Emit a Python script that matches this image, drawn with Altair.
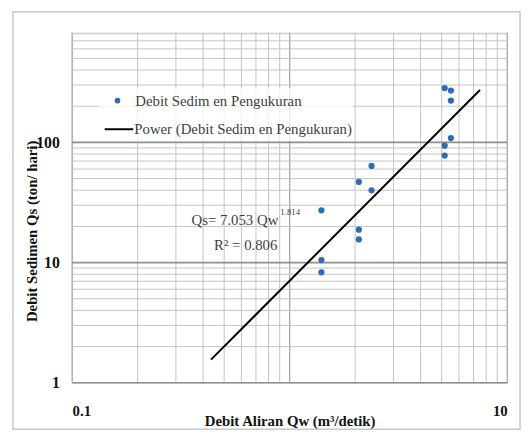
import altair as alt
import pandas as pd

# measured points (Qw m3/detik, Qs ton/hari)
qw = [1.40, 1.40, 1.40, 2.08, 2.08, 2.08, 2.38, 2.38, 5.16, 5.51, 5.51, 5.51, 5.16, 5.16]
qs = [27.2, 10.5, 8.3, 46.9, 18.8, 15.6, 63.7, 39.9, 283, 270, 223, 108.6, 94, 77.8]

# power trendline end points
trend_x = [0.435, 7.5]
trend_y = [1.56, 273]

x_minor = [0.2, 0.3, 0.4, 0.5, 0.6, 0.7, 0.8, 0.9, 2, 3, 4, 5, 6, 7, 8, 9]
x_major = [0.1, 1, 10]
y_minor = [2, 3, 4, 5, 6, 7, 8, 9, 20, 30, 40, 50, 60, 70, 80, 90,
           200, 300, 400, 500, 600, 700, 800]
y_major = [1, 10, 100]

legend_labels = ["Debit Sedim en Pengukuran", "Power (Debit Sedim en Pengukuran)"]
eq_text = "Qs= 7.053 Qw"
eq_exp = "1.814"
r2_text = "R\u00b2 = 0.806"

FONT = "Liberation Serif"
xs = alt.Scale(type="log", domain=[0.1, 10], nice=False)
ys = alt.Scale(type="log", domain=[1, 820], nice=False)

pts = pd.DataFrame({"qw": qw, "qs": qs})
trend = pd.DataFrame({"qw": trend_x, "qs": trend_y})

xaxis = alt.Axis(values=[0.1, 10], format="~g", grid=False, domain=False, ticks=False,
                 labelFont=FONT, labelFontSize=15, labelFontWeight="bold", labelColor="#111",
                 labelPadding=21, title="Debit Aliran Qw (m\u00b3/detik)", titleFont=FONT,
                 titleFontSize=15, titleFontWeight="bold", titleColor="#111",
                 titleY=38, titleBaseline="middle", zindex=2)
yaxis = alt.Axis(values=[1, 10, 100], format="~g", grid=False, domain=False, ticks=False,
                 labelFont=FONT, labelFontSize=16, labelFontWeight="bold", labelColor="#111",
                 labelPadding=13, title="Debit Sedimen  Qs (ton/ hari)", titleFont=FONT,
                 titleFontSize=15, titleFontWeight="bold", titleColor="#111",
                 titleX=-41, titleY=201, titleBaseline="middle", titleAngle=-90, zindex=2)

border = alt.Chart(pd.DataFrame({"a": [0]})).mark_rect(
    fill="white", fillOpacity=0, stroke="#c8c8c8", strokeWidth=1.5
).encode(x=alt.value(-60), x2=alt.value(454), y=alt.value(-21), y2=alt.value(402))

gx_min = alt.Chart(pd.DataFrame({"v": x_minor})).mark_rule(color="#c4c4c4", strokeWidth=1).encode(
    x=alt.X("v:Q", scale=xs, axis=xaxis))
gx_maj = alt.Chart(pd.DataFrame({"v": x_major})).mark_rule(color="#a8a8a8", strokeWidth=1.3).encode(
    x=alt.X("v:Q", scale=xs, axis=xaxis))
gy_min = alt.Chart(pd.DataFrame({"v": y_minor})).mark_rule(color="#c4c4c4", strokeWidth=1).encode(
    y=alt.Y("v:Q", scale=ys, axis=yaxis))
gy_maj = alt.Chart(pd.DataFrame({"v": y_major})).mark_rule(color="#909090", strokeWidth=1.6).encode(
    y=alt.Y("v:Q", scale=ys, axis=yaxis))

leg_bg = alt.Chart(pd.DataFrame({"a": [0]})).mark_rect(fill="white", opacity=0.75).encode(
    x=alt.value(27), x2=alt.value(285), y=alt.value(56), y2=alt.value(110))

scatter = alt.Chart(pts).mark_circle(size=40, color="#2f6db3", opacity=1).encode(
    x=alt.X("qw:Q", scale=xs, axis=xaxis), y=alt.Y("qs:Q", scale=ys, axis=yaxis))
line = alt.Chart(trend).mark_line(color="#000", strokeWidth=2).encode(
    x=alt.X("qw:Q", scale=xs, axis=xaxis), y=alt.Y("qs:Q", scale=ys, axis=yaxis))

leg_pt = alt.Chart(pd.DataFrame({"a": [0]})).mark_circle(size=32, color="#2f6db3", opacity=1).encode(
    x=alt.value(46), y=alt.value(69))
leg_ln = alt.Chart(pd.DataFrame({"a": [0]})).mark_rule(color="#000", strokeWidth=2).encode(
    x=alt.value(33), x2=alt.value(62), y=alt.value(98))
leg_t1 = alt.Chart(pd.DataFrame({"t": [legend_labels[0]]})).mark_text(
    font=FONT, fontSize=15, color="#404040", align="left", baseline="middle").encode(
    text="t:N", x=alt.value(64), y=alt.value(69))
leg_t2 = alt.Chart(pd.DataFrame({"t": [legend_labels[1]]})).mark_text(
    font=FONT, fontSize=15, color="#404040", align="left", baseline="middle").encode(
    text="t:N", x=alt.value(63), y=alt.value(98))

eq1 = alt.Chart(pd.DataFrame({"t": [eq_text]})).mark_text(
    font=FONT, fontSize=15, color="#404040", align="right", baseline="middle").encode(
    text="t:N", x=alt.value(209), y=alt.value(190))
eq2 = alt.Chart(pd.DataFrame({"t": [eq_exp]})).mark_text(
    font=FONT, fontSize=9, color="#404040", align="left", baseline="middle").encode(
    text="t:N", x=alt.value(211), y=alt.value(182))
eq3 = alt.Chart(pd.DataFrame({"t": [r2_text]})).mark_text(
    font=FONT, fontSize=15, color="#404040", align="center", baseline="middle").encode(
    text="t:N", x=alt.value(176), y=alt.value(215))

chart = alt.layer(border, gx_min, gx_maj, gy_min, gy_maj, leg_bg, line, scatter,
                  leg_pt, leg_ln, leg_t1, leg_t2, eq1, eq2, eq3).properties(
    width=441, height=355,
    autosize=alt.AutoSizeParams(type="none"),
    padding={"left": 65, "top": 22, "right": 14, "bottom": 48},
).configure_view(stroke=None).configure(background="white")

chart.save("out.html", embed_options={"renderer": "svg", "actions": False})
